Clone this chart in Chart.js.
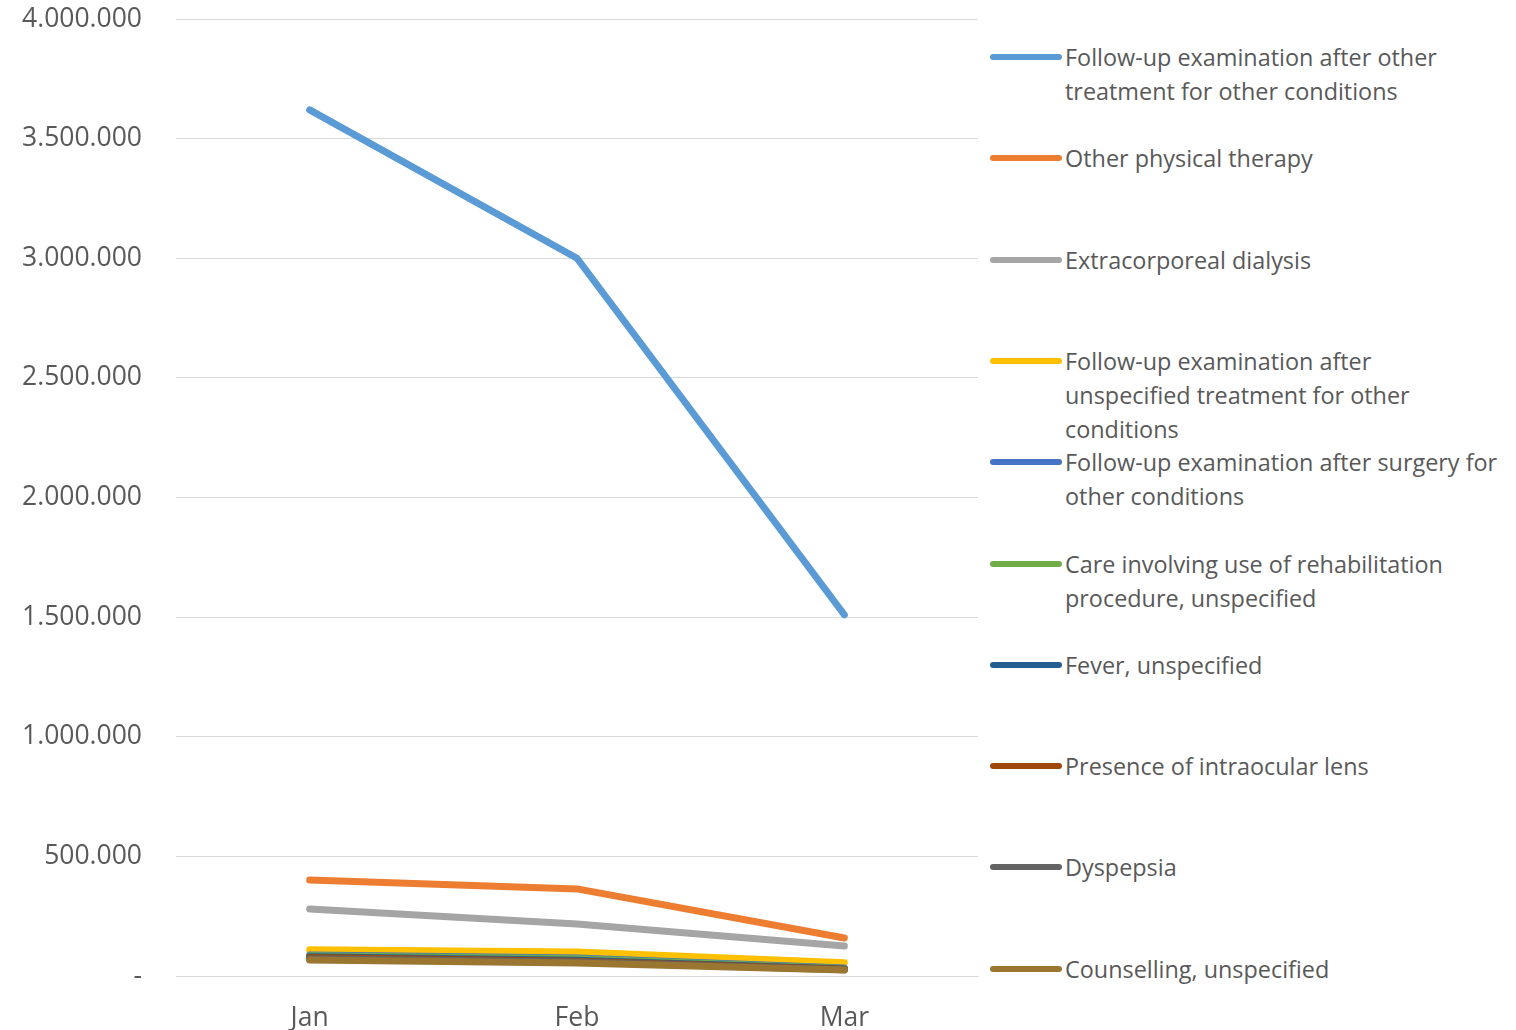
<!DOCTYPE html>
<html>
<head>
<meta charset="utf-8">
<script src="https://cdn.jsdelivr.net/npm/chart.js@4.4.1/dist/chart.umd.min.js"></script>
<style>
  html, body { margin: 0; padding: 0; background: #fff; }
  #wrap { position: relative; width: 1516px; height: 1030px; overflow: hidden; }
  #chartBox { position: absolute; left: 0; top: 0; width: 980px; height: 1030px; }
  #legend { position: absolute; left: 990px; top: 0; width: 526px; height: 1030px; }
  .item { position: absolute; left: 0; width: 526px; }
  .swatch { position: absolute; left: 0; width: 72px; height: 6px; border-radius: 3px; }
  .label { position: absolute; left: 75px; width: 450px; font-family: "Open Sans", "Liberation Sans", sans-serif;
           font-size: 23.4px; line-height: 34px; color: #595959; white-space: nowrap; }
</style>
</head>
<body>
<div id="wrap">
  <div id="chartBox"><canvas id="mainChart"></canvas></div>
  <div id="legend"></div>
</div>
<script>
const months = ["Jan", "Feb", "Mar"];

const seriesNames = [
    "Follow-up examination after other treatment for other conditions",
    "Other physical therapy",
    "Extracorporeal dialysis",
    "Follow-up examination after unspecified treatment for other conditions",
    "Follow-up examination after surgery for other conditions",
    "Care involving use of rehabilitation procedure, unspecified",
    "Fever, unspecified",
    "Presence of intraocular lens",
    "Dyspepsia",
    "Counselling, unspecified",
];

// legend line breaks as they wrap in the side panel
const legendLines = [
    ["Follow-up examination after other", "treatment for other conditions"],
    ["Other physical therapy"],
    ["Extracorporeal dialysis"],
    ["Follow-up examination after", "unspecified treatment for other", "conditions"],
    ["Follow-up examination after surgery for", "other conditions"],
    ["Care involving use of rehabilitation", "procedure, unspecified"],
    ["Fever, unspecified"],
    ["Presence of intraocular lens"],
    ["Dyspepsia"],
    ["Counselling, unspecified"],
];

const followUpOther = [3620000, 3000000, 1510000];
const physicalTherapy = [401000, 364000, 159000];
const dialysis = [280000, 217000, 125000];
const followUpUnspecified = [110000, 100000, 55000];
const followUpSurgery = [88000, 75000, 33000];
const rehabCare = [85000, 72000, 31000];
const fever = [80000, 66000, 29000];
const intraocularLens = [77000, 62000, 28000];
const dyspepsia = [72000, 58000, 26000];
const counselling = [67000, 54000, 25000];

const seriesValues = [followUpOther, physicalTherapy, dialysis, followUpUnspecified, followUpSurgery,
    rehabCare, fever, intraocularLens, dyspepsia, counselling];

const colors = ["#5B9BD5", "#ED7D31", "#A5A5A5", "#FFC000", "#4472C4",
    "#70AD47", "#255E91", "#9E480E", "#636363", "#9A7630"];

const yMax = 4000000;
const yStep = 500000;

const fmt = (v) => v === 0 ? "-" : v.toString().replace(/\B(?=(\d{3})+(?!\d))/g, ".");

const tickFont = { family: "Open Sans, Liberation Sans, sans-serif", size: 26.5 };

new Chart(document.getElementById("mainChart"), {
    type: "line",
    data: {
        labels: months,
        datasets: seriesValues.map((vals, i) => ({
            label: seriesNames[i],
            data: vals,
            borderColor: colors[i],
            backgroundColor: colors[i],
            borderWidth: 7,
            borderCapStyle: "round",
            borderJoinStyle: "round",
            pointRadius: 0,
            tension: 0,
            order: seriesValues.length - i,
        })),
    },
    options: {
        responsive: true,
        maintainAspectRatio: false,
        animation: false,
        layout: { padding: { top: 19, right: 2, left: 0, bottom: 0 } },
        plugins: { legend: { display: false }, tooltip: { enabled: false } },
        scales: {
            y: {
                min: 0, max: yMax,
                afterFit: (s) => { s.width = 176; s.paddingTop = 0; s.paddingBottom = 0; },
                border: { display: false },
                grid: { color: "#D9D9D9", lineWidth: 1, drawTicks: false },
                ticks: { stepSize: yStep, padding: 34, color: "#595959", font: tickFont, callback: (v) => fmt(v) },
            },
            x: {
                offset: true,
                afterFit: (s) => { s.height = 54; },
                border: { display: true, color: "#D9D9D9", width: 1 },
                grid: { display: false, drawTicks: false },
                ticks: { padding: 27, color: "#595959", font: tickFont },
            },
        },
    },
});

// side legend built from the same series arrays
const legendEl = document.getElementById("legend");
const legendTop = 40;
const legendStep = 101.3;
seriesNames.forEach((name, i) => {
    const item = document.createElement("div");
    item.className = "item";
    item.style.top = (legendTop + i * legendStep) + "px";
    const sw = document.createElement("div");
    sw.className = "swatch";
    sw.style.background = colors[i];
    sw.style.top = "14px";
    const lb = document.createElement("div");
    lb.className = "label";
    lb.style.top = "0px";
    lb.innerHTML = legendLines[i].join("<br>");
    item.appendChild(sw);
    item.appendChild(lb);
    legendEl.appendChild(item);
});
</script>
</body>
</html>
